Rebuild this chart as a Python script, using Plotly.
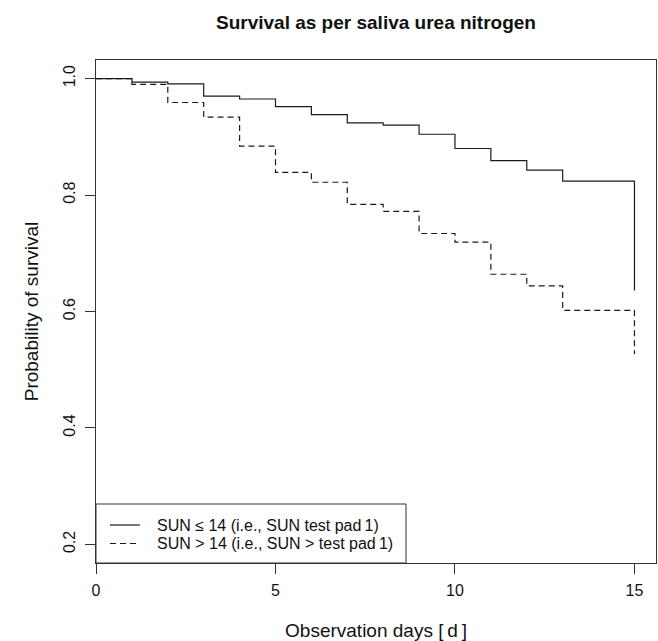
import plotly.graph_objects as go

# Observation days (step change points)
days = [0, 1, 2, 3, 4, 5, 6, 7, 8, 9, 10, 11, 12, 13, 15]
# Survival probability, SUN <= 14
surv_low = [1.0, 0.994, 0.991, 0.970, 0.965, 0.952, 0.938, 0.924, 0.920,
            0.9045, 0.880, 0.859, 0.843, 0.824, 0.636]
# Survival probability, SUN > 14
surv_high = [1.0, 0.990, 0.959, 0.934, 0.884, 0.839, 0.822, 0.784, 0.772,
             0.734, 0.719, 0.664, 0.644, 0.602, 0.527]

names = ["SUN \u2264 14 (i.e., SUN test pad\u20091)",
         "SUN > 14 (i.e., SUN > test pad\u20091)"]
dashes = ["solid", "6px,4px"]
x_ticks = [0, 5, 10, 15]
y_ticks = [0.2, 0.4, 0.6, 0.8, 1.0]
y_ticklabels = ["0.2", "0.4", "0.6", "0.8", "1.0"]

FONT = "Liberation Sans, Arial, Helvetica, sans-serif"
INK = "#1a1a1a"
W, H = 658, 641
ML, MR, MT, MB = 96, 2, 60, 78
PW, PH = W - ML - MR, H - MT - MB


def px(xp):
    return (xp - ML) / PW


def py(yp):
    return (H - MB - yp) / PH


fig = go.Figure()
for yv, nm, ds in zip([surv_low, surv_high], names, dashes):
    fig.add_trace(go.Scatter(
        x=days, y=yv, mode="lines", line_shape="hv",
        line=dict(color=INK, width=1.2, dash=ds), name=nm, showlegend=False))

# R-style legend box at lower-left of plot
fig.add_shape(type="rect", xref="paper", yref="paper",
              x0=0, x1=px(406), y0=0, y1=py(504),
              line=dict(color="#333333", width=1), fillcolor="rgba(0,0,0,0)", layer="above")
for i, (nm, ds) in enumerate(zip(names, dashes)):
    yrow = py(525 + 18.5 * i)
    fig.add_shape(type="line", xref="paper", yref="paper",
                  x0=px(110), x1=px(140), y0=yrow, y1=yrow,
                  line=dict(color=INK, width=1.2, dash=ds))
    fig.add_annotation(xref="paper", yref="paper", x=px(155), y=yrow,
                       xanchor="left", yanchor="middle", text=nm, showarrow=False,
                       font=dict(size=16, family=FONT, color="#111111"))

fig.update_layout(
    width=W, height=H,
    margin=dict(l=ML, r=MR, t=MT, b=MB),
    plot_bgcolor="white", paper_bgcolor="white",
    font=dict(family=FONT, size=16, color="#111111"),
    title=dict(text="<b>Survival as per saliva urea nitrogen</b>",
               x=0.5, xref="paper", xanchor="center",
               y=1 - 22 / H, yref="container", yanchor="middle",
               font=dict(size=19, family=FONT, color="#111111")),
    showlegend=False,
    xaxis=dict(range=[0, 15.6], tickvals=x_ticks, ticks="outside", ticklen=10,
               tickcolor="#333333", showgrid=False, zeroline=False,
               showline=True, linecolor="#333333", linewidth=1, mirror=True,
               ticklabelstandoff=3,
               title=dict(text="Observation days [\u2009d\u2009]", standoff=25),
               automargin=False),
    yaxis=dict(range=[0.168, 1.032], tickvals=y_ticks, ticktext=y_ticklabels,
               ticks="outside", ticklen=10, tickangle=-90,
               tickcolor="#333333", showgrid=False, zeroline=False,
               showline=True, linecolor="#333333", linewidth=1, mirror=True,
               ticklabelstandoff=4,
               title=dict(text="Probability of survival", standoff=16),
               automargin=False),
)

fig.write_html("out.html")
